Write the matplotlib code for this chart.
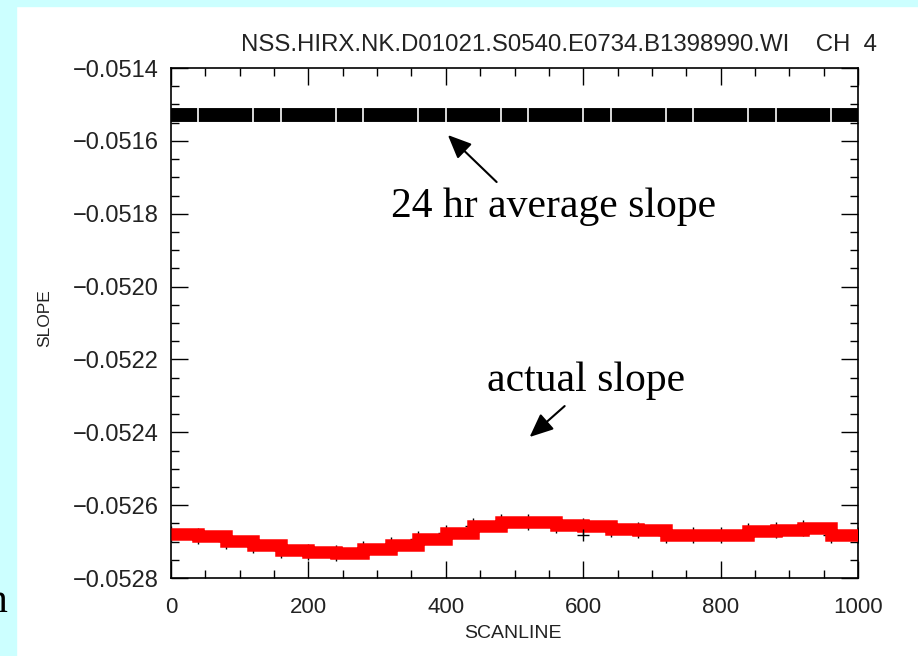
import matplotlib
matplotlib.use("Agg")
import matplotlib.pyplot as plt
import numpy as np
from matplotlib.patches import Rectangle
from matplotlib.ticker import MultipleLocator, FuncFormatter

# scanline grid (data points every 40 scanlines)
scanline = np.arange(0, 1001, 40)

# 24 hr average slope (constant)
avg_value = -0.05153
avg_slope = np.full(len(scanline), avg_value)
avg_breaks = [40, 120, 160, 240, 280, 360, 400, 480, 520, 600, 640,
              720, 760, 840, 880, 960]

# actual slope
actual_slope = [-0.052678, -0.052685, -0.052698, -0.052709, -0.052723,
                -0.052729, -0.052730, -0.052720, -0.052709, -0.052693,
                -0.052676, -0.052657, -0.052646, -0.052646, -0.052655,
                -0.052657, -0.052665, -0.052667, -0.052682, -0.052683,
                -0.052682, -0.052672, -0.052668, -0.052664, -0.052682,
                -0.052682]
stray_x = [600]
stray_y = [-0.052682]

title = "NSS.HIRX.NK.D01021.S0540.E0734.B1398990.WI    CH  4"
sans = ['Liberation Sans', 'DejaVu Sans']
serif = ['Liberation Serif', 'DejaVu Serif']

W, H = 918, 656
fig = plt.figure(figsize=(W / 100, H / 100), dpi=100)
fig.patch.set_facecolor('white')
# cyan border strips
fig.add_artist(Rectangle((0, 0), 16 / W, 1, transform=fig.transFigure,
                         color='#ccffff', zorder=0))
fig.add_artist(Rectangle((0, 1 - 6 / H), 1, 6 / H, transform=fig.transFigure,
                         color='#ccffff', zorder=0))

ax = fig.add_axes([171 / W, 1 - 578 / H, 687 / W, 510 / H])
ax.set_facecolor('white')

ax.plot(scanline, avg_slope, color='black', lw=10, solid_capstyle='butt', zorder=3)
ax.plot(avg_breaks, [avg_value] * len(avg_breaks), '|', color='white',
        ms=10, mew=1.2, zorder=4)

ax.plot(scanline, actual_slope, '+', color='black', ms=12, mew=1, zorder=2)
ax.plot(scanline, actual_slope, drawstyle='steps-post', color='red', lw=9,
        solid_capstyle='butt', solid_joinstyle='miter', zorder=3)
ax.plot(stray_x, stray_y, '+', color='black', ms=9, mew=1, zorder=5)

ax.set_xlim(0, 1000)
ax.set_ylim(-0.0528, -0.0514)
ax.xaxis.set_major_locator(MultipleLocator(200))
ax.xaxis.set_minor_locator(MultipleLocator(50))
ax.yaxis.set_major_locator(MultipleLocator(0.0002))
ax.yaxis.set_minor_locator(MultipleLocator(0.00005))
ax.yaxis.set_major_formatter(FuncFormatter(lambda v, p: ("%.4f" % v).replace('-', '\u2212')))
ax.tick_params(which='both', direction='in', top=True, right=True, width=1)
ax.tick_params(which='major', length=12)
ax.tick_params(which='minor', length=6)
ax.tick_params(axis='x', pad=14)
ax.tick_params(axis='y', pad=9)
for lab in ax.get_xticklabels():
    lab.set_family(sans)
    lab.set_fontsize(16)
    lab.set_color('#222222')
for lab in ax.get_yticklabels():
    lab.set_family(sans)
    lab.set_fontsize(17)
    lab.set_color('#222222')
for s in ax.spines.values():
    s.set_linewidth(1.2)

fig.text(877 / W, 1 - 45 / H, title, ha='right', va='center',
         fontsize=17.3, family=sans, color='#222222')
fig.text(45 / W, 1 - 318 / H, 'SLOPE', rotation=90, ha='center', va='center',
         fontsize=12.5, family=sans, color='#222222')
fig.text(513 / W, 1 - 634 / H, 'SCANLINE', ha='center', va='center',
         fontsize=14, family=sans, color='#222222')

arrow = dict(arrowstyle='-|>,head_length=0.8,head_width=0.35', color='black',
             lw=1.5, mutation_scale=18, shrinkA=0, shrinkB=0)
ax.annotate('', xy=(403, -0.051584), xytext=(474, -0.051713), arrowprops=arrow)
ax.text(557, -0.051782, '24 hr average slope', ha='center', va='center',
        fontsize=30, family=serif)
ax.annotate('', xy=(522, -0.052413), xytext=(573, -0.052328), arrowprops=arrow)
ax.text(604, -0.052259, 'actual slope', ha='center', va='center',
        fontsize=30, family=serif)

fig.text(-13 / W, 1 - 602 / H, 'n', ha='left', va='center', fontsize=30,
         family=serif)

fig.savefig('out.png', dpi=100)
